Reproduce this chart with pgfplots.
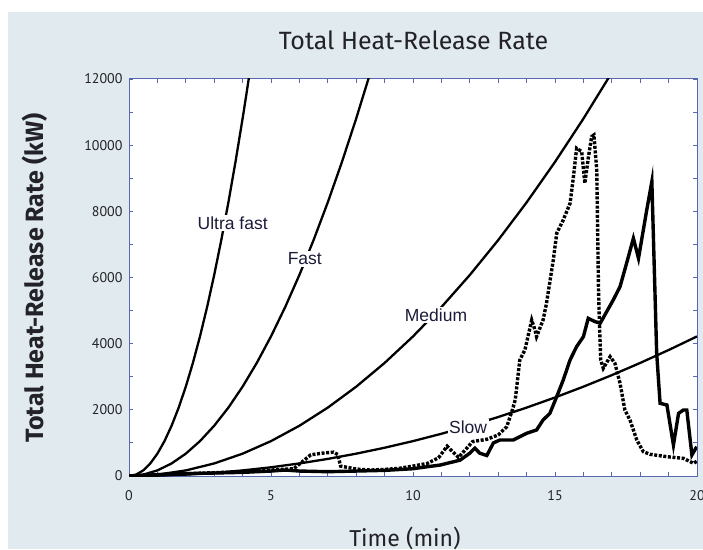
\documentclass[border=0pt]{standalone}
\usepackage{pgfplots}
\pgfplotsset{compat=1.18}
\usepackage{fontspec}
\setmainfont{Fira Sans}
\newfontfamily\ptsans{PT Sans}
\newfontfamily\arialf{Liberation Sans}
\definecolor{bgcol}{RGB}{225,234,238}
\definecolor{axisblue}{RGB}{88,104,176}
\definecolor{txt}{RGB}{34,34,40}
\definecolor{lbl}{RGB}{28,28,58}
\begin{document}
\begin{tikzpicture}[x=1pt,y=1pt]
\useasboundingbox (0,0) rectangle (703,549);
\clip (0,0) rectangle (703,549);
\fill[white] (0,0) rectangle (703,549);
\fill[bgcol] (8,0) rectangle (703,537);
\begin{axis}[at={(129pt,73pt)}, anchor=south west, scale only axis,
  width=568pt, height=397pt,
  xmin=0, xmax=20, ymin=0, ymax=12000,
  xtick={0,5,10,15,20}, minor x tick num=4,
  ytick={0,2000,4000,6000,8000,10000,12000}, minor y tick num=1,
  tick align=inside, major tick length=4pt, minor tick length=4pt,
  axis line style={color=axisblue, line width=1pt},
  every tick/.style={color=axisblue, line width=0.9pt},
  axis background/.style={fill=white},
  scaled y ticks=false,
  /pgf/number format/assume math mode=true,
  yticklabel style={/pgf/number format/1000 sep={}, text=txt, font=\ptsans\fontsize{14}{14}\selectfont, xshift=-3pt},
  xticklabel style={text=txt, font=\ptsans\fontsize{14}{14}\selectfont, yshift=-11pt},
  clip=true,
]
% t-squared curves
\addplot[black, line width=2.3pt] coordinates {(0,0)(0.25,42.2)(0.5,168.8)(0.75,379.9)(1,675.4)(1.25,1055.3)(1.5,1519.6)(1.75,2068.3)(2,2701.4)(2.25,3419)(2.5,4221)(2.75,5107.4)(3,6078.2)(3.25,7133.5)(3.5,8273.2)(3.75,9497.2)(4,10805.8)(4.1,11352.8)(4.25,12198.6)};
\addplot[black, line width=2.3pt] coordinates {(0,0)(0.5,42.2)(1,168.8)(1.5,379.9)(2,675.4)(2.5,1055.3)(3,1519.6)(3.5,2068.3)(4,2701.4)(4.5,3419.0)(5,4221.0)(5.5,5107.4)(6,6078.2)(6.5,7133.5)(7,8273.2)(7.5,9497.3)(8,10805.8)(8.5,12198.7)};
\addplot[black, line width=2.3pt] coordinates {(0,0)(1,42.2)(2,168.8)(3,379.7)(4,675.0)(5,1054.8)(6,1518.8)(7,2067.3)(8,2700.2)(9,3417.4)(10,4219)(11,5105)(12,6075.4)(13,7130.1)(14,8269.2)(15,9492.8)(16,10800.6)(17,12192.9)};
\addplot[black, line width=2.3pt] coordinates {(0,0)(1,10.5)(2,42.2)(3,94.9)(4,168.8)(5,263.7)(6,379.7)(7,516.9)(8,675.1)(9,854.4)(10,1054.8)(11,1276.3)(12,1518.9)(13,1782.6)(14,2067.4)(15,2373.3)(16,2700.3)(17,3048.4)(18,3417.6)(19,3807.8)(20,4219.2)};
% measured, dashed
\addplot[black, line width=3.4pt, dash pattern=on 3pt off 1.6pt] coordinates {(0,0)(0.5,20)(1,40)(2,70)(3,100)(4,130)(5,180)(5.8,220)(6.1,430)(6.4,640)(6.8,690)(7.2,720)(7.35,650)(7.45,300)(8,210)(8.5,180)(9,200)(9.5,230)(10,300)(10.5,380)(10.9,550)(11.2,900)(11.6,560)(12.1,1040)(12.6,1110)(13.0,1240)(13.3,1490)(13.5,2000)(13.6,2300)(13.76,3507)(13.94,3809)(14.18,4716)(14.3,4400)(14.35,4211)(14.58,4716)(14.7,5220)(14.94,6530)(15.06,7336)(15.29,7739)(15.53,8243)(15.65,9049)(15.76,9905)(15.94,9805)(16.05,8847)(16.17,9603)(16.29,10258)(16.37,10308)(16.47,9250)(16.53,5723)(16.56,4716)(16.61,3507)(16.70,3255)(16.94,3607)(17.11,3406)(17.29,2801)(17.46,1995)(17.64,1693)(17.88,1088)(18.11,735)(18.35,655)(18.94,584)(19.52,534)(19.88,383)(20,450)};
% measured, solid
\addplot[black, line width=3.4pt] coordinates {(0,0)(0.5,20)(1,40)(2,70)(3,90)(4,110)(5,150)(5.5,180)(6,150)(7,130)(8,150)(9,170)(10,220)(10.5,280)(10.95,330)(11.66,480)(12.0,690)(12.18,840)(12.35,690)(12.6,620)(12.83,1000)(13.06,1088)(13.53,1088)(14.0,1290)(14.35,1390)(14.58,1693)(14.82,1894)(15.06,2398)(15.29,2902)(15.53,3507)(15.76,3910)(16.0,4211)(16.17,4766)(16.41,4666)(16.59,4615)(16.82,4968)(17.05,5320)(17.29,5723)(17.52,6429)(17.76,7185)(17.94,6580)(18.11,7437)(18.23,8041)(18.41,8898)(18.58,3708)(18.70,2197)(18.94,2147)(19.17,937)(19.35,1894)(19.52,1995)(19.64,1995)(19.82,635)(19.99,886)};
\node[fill=white, inner sep=1.5pt, text=lbl, font=\arialf\fontsize{17.5}{17.5}\selectfont] at (axis cs:3.65,7650) {Ultra fast};
\node[fill=white, inner sep=1.5pt, text=lbl, font=\arialf\fontsize{17.5}{17.5}\selectfont] at (axis cs:6.19,6560) {Fast};
\node[fill=white, inner sep=1.5pt, text=lbl, font=\arialf\fontsize{17.5}{17.5}\selectfont] at (axis cs:10.81,4867) {Medium};
\node[fill=white, inner sep=1.5pt, text=lbl, font=\arialf\fontsize{17.5}{17.5}\selectfont] at (axis cs:11.94,1481) {Slow};
\end{axis}
\node[text=txt, font=\fontsize{25}{25}\selectfont] at (413.5,509) {Total Heat-Release Rate};
\node[text=txt, font=\fontsize{23}{23}\selectfont] at (405,11) {Time (min)};
\node[text=txt, rotate=90, font=\bfseries\fontsize{25}{25}\selectfont] at (35,271) {Total Heat-Release Rate (kW)};
\end{tikzpicture}
\end{document}
